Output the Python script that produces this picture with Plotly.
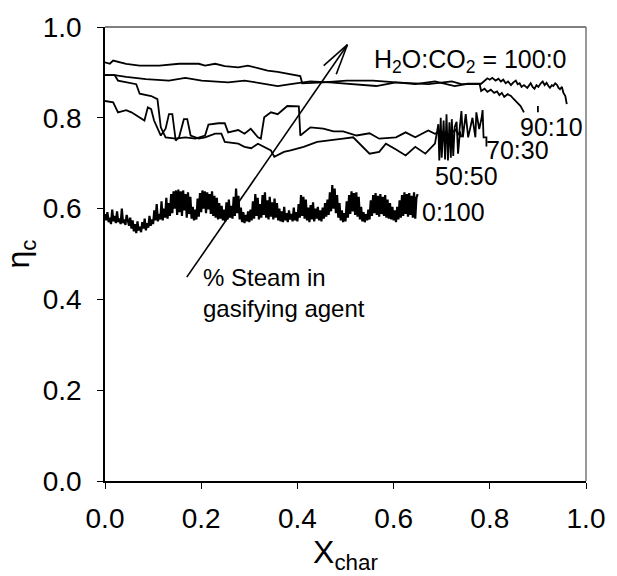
import math
import plotly.graph_objects as go

# Carbon conversion efficiency vs char conversion for different H2O:CO2 ratios

x_100_0 = [0.000, 0.020, 0.044, 0.085, 0.133, 0.167, 0.201, 0.242, 0.256, 0.290, 0.331, 0.359,
           0.386, 0.427, 0.467, 0.523, 0.564, 0.605, 0.645, 0.686, 0.727, 0.754, 0.782, 0.795,
           0.800, 0.805, 0.812, 0.818, 0.823, 0.828, 0.833, 0.838, 0.844, 0.849, 0.854, 0.858,
           0.862, 0.866, 0.871, 0.878, 0.885, 0.889, 0.893, 0.897, 0.901, 0.906, 0.910, 0.914,
           0.918, 0.922, 0.925, 0.929, 0.932, 0.936, 0.940, 0.943, 0.946, 0.950, 0.953, 0.957,
           0.960]
y_100_0 = [0.894, 0.894, 0.890, 0.885, 0.882, 0.888, 0.882, 0.880, 0.878, 0.882, 0.874, 0.870,
           0.874, 0.880, 0.878, 0.874, 0.870, 0.878, 0.874, 0.880, 0.870, 0.875, 0.875, 0.887,
           0.884, 0.888, 0.882, 0.886, 0.880, 0.884, 0.876, 0.880, 0.872, 0.878, 0.882, 0.874,
           0.876, 0.868, 0.872, 0.866, 0.876, 0.868, 0.864, 0.872, 0.868, 0.876, 0.880, 0.872,
           0.877, 0.870, 0.866, 0.872, 0.870, 0.876, 0.872, 0.866, 0.863, 0.868, 0.855, 0.848,
           0.830]

x_90_10 = [0.000, 0.010, 0.017, 0.044, 0.072, 0.113, 0.154, 0.195, 0.208, 0.229, 0.249, 0.277,
           0.297, 0.318, 0.338, 0.359, 0.386, 0.406, 0.410, 0.454, 0.502, 0.557, 0.605, 0.672,
           0.721, 0.741, 0.779, 0.782, 0.789, 0.795, 0.802, 0.809, 0.815, 0.820, 0.825, 0.830,
           0.837, 0.844, 0.849, 0.854, 0.859, 0.864, 0.871,
           None, 0.900, 0.900]
y_90_10 = [0.922, 0.919, 0.926, 0.919, 0.915, 0.915, 0.919, 0.919, 0.915, 0.919, 0.914, 0.911,
           0.915, 0.909, 0.904, 0.901, 0.895, 0.892, 0.876, 0.878, 0.882, 0.882, 0.878, 0.874,
           0.880, 0.874, 0.874, 0.859, 0.864, 0.857, 0.862, 0.855, 0.858, 0.850, 0.855, 0.846,
           0.852, 0.848, 0.842, 0.837, 0.832, 0.826, 0.812,
           None, 0.826, 0.812]

x_70_30 = [0.000, 0.020, 0.027, 0.065, 0.072, 0.096, 0.109, 0.113, 0.116, 0.126, 0.147, 0.167,
           0.188, 0.208, 0.215, 0.236, 0.249, 0.256, 0.277, 0.290, 0.303, 0.318, 0.324, 0.331,
           0.345, 0.359, 0.379, 0.403, 0.406, 0.427, 0.454, 0.475, 0.495, 0.523, 0.550, 0.570,
           0.605, 0.625, 0.645, 0.672, 0.686, 0.700, 0.715, 0.728, 0.736, 0.741, 0.744, 0.750,
           0.755, 0.764, 0.770, 0.772, 0.778, 0.783, 0.785, 0.787, 0.793, 0.793]
y_70_30 = [0.894, 0.894, 0.882, 0.874, 0.853, 0.848, 0.841, 0.808, 0.779, 0.757, 0.754, 0.757,
           0.754, 0.761, 0.785, 0.788, 0.788, 0.768, 0.773, 0.765, 0.776, 0.757, 0.754, 0.801,
           0.812, 0.808, 0.826, 0.825, 0.761, 0.779, 0.776, 0.770, 0.770, 0.761, 0.766, 0.754,
           0.757, 0.768, 0.757, 0.772, 0.765, 0.770, 0.760, 0.774, 0.762, 0.815, 0.757, 0.808,
           0.757, 0.800, 0.757, 0.812, 0.775, 0.800, 0.817, 0.757, 0.757, 0.737]

x_50_50 = [0.000, 0.017, 0.027, 0.044, 0.055, 0.072, 0.082, 0.089, 0.096, 0.102, 0.109, 0.116,
           0.126, 0.133, 0.140, 0.147, 0.154, 0.164, 0.171, 0.178, 0.195, 0.208, 0.229, 0.242,
           0.249, 0.277, 0.290, 0.304, 0.318, 0.331, 0.345, 0.352, 0.372, 0.386, 0.413, 0.441,
           0.468, 0.495, 0.516, 0.536, 0.550, 0.570, 0.584, 0.605, 0.625, 0.645, 0.666, 0.686,
           0.693, 0.695, 0.698, 0.700, 0.704, 0.707, 0.710, 0.713, 0.716, 0.719, 0.721, 0.724,
           0.727, 0.731, 0.734, 0.738, 0.741]
y_50_50 = [0.837, 0.834, 0.812, 0.817, 0.812, 0.801, 0.794, 0.823, 0.819, 0.794, 0.776, 0.761,
           0.776, 0.808, 0.808, 0.750, 0.757, 0.797, 0.797, 0.761, 0.754, 0.757, 0.765, 0.765,
           0.747, 0.743, 0.736, 0.733, 0.743, 0.736, 0.728, 0.714, 0.725, 0.728, 0.736, 0.747,
           0.750, 0.754, 0.757, 0.736, 0.721, 0.725, 0.743, 0.730, 0.717, 0.736, 0.721, 0.743,
           0.786, 0.706, 0.800, 0.712, 0.794, 0.708, 0.808, 0.706, 0.790, 0.712, 0.797, 0.716,
           0.780, 0.791, 0.721, 0.770, 0.757]

x_0_100 = [
    0.0000, 0.0025, 0.0050, 0.0075, 0.0100, 0.0125, 0.0150, 0.0175, 0.0200, 0.0225,
    0.0250, 0.0275, 0.0300, 0.0325, 0.0350, 0.0375, 0.0400, 0.0425, 0.0450, 0.0475,
    0.0500, 0.0525, 0.0550, 0.0575, 0.0600, 0.0625, 0.0650, 0.0675, 0.0700, 0.0725,
    0.0750, 0.0775, 0.0800, 0.0825, 0.0850, 0.0875, 0.0900, 0.0925, 0.0950, 0.0975,
    0.1000, 0.1025, 0.1050, 0.1075, 0.1100, 0.1125, 0.1150, 0.1175, 0.1200, 0.1225,
    0.1250, 0.1275, 0.1300, 0.1325, 0.1350, 0.1375, 0.1400, 0.1425, 0.1450, 0.1475,
    0.1500, 0.1525, 0.1550, 0.1575, 0.1600, 0.1625, 0.1650, 0.1675, 0.1700, 0.1725,
    0.1750, 0.1775, 0.1800, 0.1825, 0.1850, 0.1875, 0.1900, 0.1925, 0.1950, 0.1975,
    0.2000, 0.2025, 0.2050, 0.2075, 0.2100, 0.2125, 0.2150, 0.2175, 0.2200, 0.2225,
    0.2250, 0.2275, 0.2300, 0.2325, 0.2350, 0.2375, 0.2400, 0.2425, 0.2450, 0.2475,
    0.2500, 0.2525, 0.2550, 0.2575, 0.2600, 0.2625, 0.2650, 0.2675, 0.2700, 0.2725,
    0.2750, 0.2775, 0.2800, 0.2825, 0.2850, 0.2875, 0.2900, 0.2925, 0.2950, 0.2975,
    0.3000, 0.3025, 0.3050, 0.3075, 0.3100, 0.3125, 0.3150, 0.3175, 0.3200, 0.3225,
    0.3250, 0.3275, 0.3300, 0.3325, 0.3350, 0.3375, 0.3400, 0.3425, 0.3450, 0.3475,
    0.3500, 0.3525, 0.3550, 0.3575, 0.3600, 0.3625, 0.3650, 0.3675, 0.3700, 0.3725,
    0.3750, 0.3775, 0.3800, 0.3825, 0.3850, 0.3875, 0.3900, 0.3925, 0.3950, 0.3975,
    0.4000, 0.4025, 0.4050, 0.4075, 0.4100, 0.4125, 0.4150, 0.4175, 0.4200, 0.4225,
    0.4250, 0.4275, 0.4300, 0.4325, 0.4350, 0.4375, 0.4400, 0.4425, 0.4450, 0.4475,
    0.4500, 0.4525, 0.4550, 0.4575, 0.4600, 0.4625, 0.4650, 0.4675, 0.4700, 0.4725,
    0.4750, 0.4775, 0.4800, 0.4825, 0.4850, 0.4875, 0.4900, 0.4925, 0.4950, 0.4975,
    0.5000, 0.5025, 0.5050, 0.5075, 0.5100, 0.5125, 0.5150, 0.5175, 0.5200, 0.5225,
    0.5250, 0.5275, 0.5300, 0.5325, 0.5350, 0.5375, 0.5400, 0.5425, 0.5450, 0.5475,
    0.5500, 0.5525, 0.5550, 0.5575, 0.5600, 0.5625, 0.5650, 0.5675, 0.5700, 0.5725,
    0.5750, 0.5775, 0.5800, 0.5825, 0.5850, 0.5875, 0.5900, 0.5925, 0.5950, 0.5975,
    0.6000, 0.6025, 0.6050, 0.6075, 0.6100, 0.6125, 0.6150, 0.6175, 0.6200, 0.6225,
    0.6250, 0.6275, 0.6300, 0.6325, 0.6350, 0.6375, 0.6400, 0.6425, 0.6450, 0.6475,
    0.6500]
y_0_100 = [
    0.588, 0.574, 0.592, 0.570, 0.580, 0.566, 0.598, 0.572, 0.584, 0.568,
    0.594, 0.570, 0.578, 0.566, 0.600, 0.568, 0.576, 0.564, 0.586, 0.570,
    0.562, 0.580, 0.556, 0.574, 0.550, 0.566, 0.546, 0.572, 0.552, 0.560,
    0.548, 0.570, 0.556, 0.578, 0.552, 0.568, 0.558, 0.584, 0.562, 0.576,
    0.566, 0.596, 0.574, 0.610, 0.572, 0.588, 0.576, 0.616, 0.574, 0.600,
    0.580, 0.624, 0.578, 0.612, 0.584, 0.632, 0.590, 0.638, 0.600, 0.640,
    0.586, 0.642, 0.592, 0.638, 0.584, 0.640, 0.596, 0.632, 0.580, 0.636,
    0.588, 0.626, 0.578, 0.604, 0.574, 0.598, 0.576, 0.622, 0.582, 0.634,
    0.592, 0.640, 0.600, 0.638, 0.590, 0.636, 0.598, 0.632, 0.588, 0.638,
    0.584, 0.628, 0.580, 0.624, 0.576, 0.612, 0.578, 0.606, 0.574, 0.598,
    0.572, 0.614, 0.576, 0.620, 0.580, 0.606, 0.578, 0.626, 0.584, 0.644,
    0.590, 0.628, 0.576, 0.602, 0.570, 0.592, 0.568, 0.586, 0.572, 0.594,
    0.570, 0.598, 0.574, 0.616, 0.578, 0.632, 0.584, 0.624, 0.576, 0.610,
    0.580, 0.630, 0.586, 0.636, 0.580, 0.618, 0.576, 0.626, 0.582, 0.614,
    0.576, 0.622, 0.580, 0.612, 0.574, 0.600, 0.572, 0.594, 0.570, 0.604,
    0.574, 0.590, 0.570, 0.596, 0.576, 0.588, 0.572, 0.602, 0.574, 0.592,
    0.572, 0.610, 0.580, 0.630, 0.584, 0.626, 0.578, 0.620, 0.574, 0.602,
    0.570, 0.608, 0.576, 0.614, 0.572, 0.600, 0.578, 0.604, 0.574, 0.596,
    0.572, 0.602, 0.578, 0.612, 0.582, 0.620, 0.586, 0.636, 0.594, 0.652,
    0.600, 0.644, 0.590, 0.630, 0.580, 0.612, 0.574, 0.596, 0.570, 0.590,
    0.572, 0.616, 0.580, 0.630, 0.588, 0.638, 0.594, 0.634, 0.586, 0.636,
    0.582, 0.626, 0.576, 0.604, 0.572, 0.592, 0.570, 0.588, 0.574, 0.598,
    0.576, 0.618, 0.584, 0.630, 0.590, 0.634, 0.586, 0.628, 0.582, 0.632,
    0.588, 0.626, 0.584, 0.630, 0.580, 0.620, 0.578, 0.612, 0.576, 0.604,
    0.574, 0.596, 0.570, 0.604, 0.576, 0.618, 0.580, 0.630, 0.584, 0.636,
    0.588, 0.632, 0.582, 0.634, 0.586, 0.628, 0.580, 0.636, 0.578, 0.624,
    0.632]

series_names = ["100:0", "90:10", "70:30", "50:50", "0:100"]
series_x = [x_100_0, x_90_10, x_70_30, x_50_50, x_0_100]
series_y = [y_100_0, y_90_10, y_70_30, y_50_50, y_0_100]
series_width = [1.8, 1.8, 1.8, 1.8, 2.2]

# ratio labels: text, x, y
label_text = ["H<sub>2</sub>O:CO<sub>2</sub> = 100:0", "90:10", "70:30", "50:50", "0:100"]
label_x = [0.760, 0.928, 0.857, 0.752, 0.725]
label_y = [0.925, 0.780, 0.728, 0.671, 0.593]

# trend arrow: tail and tip
arrow_tail = (0.170, 0.449)
arrow_tip = (0.504, 0.961)

tick_vals = [0.0, 0.2, 0.4, 0.6, 0.8, 1.0]
tick_text = ["0.0", "0.2", "0.4", "0.6", "0.8", "1.0"]

FONT = "Arial, Liberation Sans, sans-serif"
W, H = 617, 576
ML, MR, MT, MB = 105, 24, 22, 95
PW, PH = W - ML - MR, H - MT - MB

fig = go.Figure()
for name, xs, ys, lw in zip(series_names, series_x, series_y, series_width):
    fig.add_trace(go.Scatter(x=xs, y=ys, mode="lines", name=name,
                             line=dict(color="black", width=lw), connectgaps=False,
                             showlegend=False))

for t, lx, ly in zip(label_text, label_x, label_y):
    fig.add_annotation(x=lx, y=ly, text=t, showarrow=False, xref="x", yref="y",
                       xanchor="center", yanchor="middle",
                       font=dict(family=FONT, size=25, color="black"))

fig.add_annotation(x=0.199, y=0.414, text="% Steam in<br>gasifying agent", showarrow=False,
                   xref="x", yref="y", xanchor="left", yanchor="middle", align="left",
                   font=dict(family=FONT, size=24, color="black"))

# arrow shaft
fig.add_shape(type="line", xref="x", yref="y", x0=arrow_tail[0], y0=arrow_tail[1],
              x1=arrow_tip[0], y1=arrow_tip[1], line=dict(color="black", width=1.6))
# open arrow head, built in pixel space
dxp = (arrow_tail[0] - arrow_tip[0]) * PW
dyp = (arrow_tail[1] - arrow_tip[1]) * PH
L = math.hypot(dxp, dyp)
ux, uy = dxp / L, dyp / L
for ang in (14, -14):
    a = math.radians(ang)
    rx = ux * math.cos(a) - uy * math.sin(a)
    ry = ux * math.sin(a) + uy * math.cos(a)
    fig.add_shape(type="line", xref="x", yref="y", x0=arrow_tip[0], y0=arrow_tip[1],
                  x1=arrow_tip[0] + rx * 32 / PW, y1=arrow_tip[1] + ry * 32 / PH,
                  line=dict(color="black", width=1.6))

# grey frame on top and right
fig.add_shape(type="line", xref="x domain", yref="y domain", x0=0, y0=1, x1=1, y1=1,
              line=dict(color="#555555", width=1.5))
fig.add_shape(type="line", xref="x domain", yref="y domain", x0=1, y0=0, x1=1, y1=1,
              line=dict(color="#777777", width=1.5))

axis_common = dict(range=[0, 1], tickvals=tick_vals, ticktext=tick_text, ticks="outside",
                   ticklen=6, tickwidth=1.2, tickcolor="black", showline=True,
                   linecolor="black", linewidth=1.5, showgrid=False, zeroline=False,
                   tickfont=dict(family=FONT, size=28, color="black"))

fig.update_layout(
    width=W, height=H,
    margin=dict(l=ML, r=MR, t=MT, b=MB),
    paper_bgcolor="white", plot_bgcolor="white",
    xaxis=dict(**axis_common, ticklabelstandoff=6,
               title=dict(text="X<sub>char</sub>", font=dict(family=FONT, size=32, color="black"),
                          standoff=4)),
    yaxis=dict(**axis_common, ticklabelstandoff=10,
               title=dict(text="\u03b7<sub>c</sub>", font=dict(family=FONT, size=32, color="black"),
                          standoff=8)),
)

fig.write_html("out.html")
